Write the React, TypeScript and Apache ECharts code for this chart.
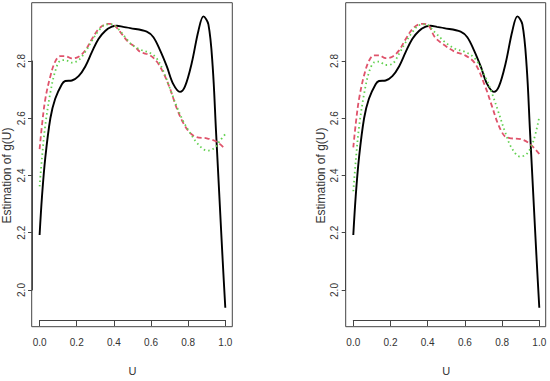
import React, { useEffect, useRef } from "react";
import * as echarts from "echarts";

// Black solid curve (same in both panels)
const blackU = [0, 0.013, 0.031, 0.058, 0.084, 0.12, 0.138, 0.174, 0.21, 0.246, 0.282, 0.317, 0.353, 0.389, 0.416, 0.45, 0.488, 0.577, 0.613, 0.649, 0.685, 0.72, 0.756, 0.783, 0.819, 0.855, 0.882, 0.909, 0.932, 0.95, 0.968, 0.986, 1.0];
const blackG = [2.192, 2.328, 2.464, 2.6, 2.668, 2.719, 2.73, 2.732, 2.747, 2.781, 2.832, 2.877, 2.905, 2.92, 2.923, 2.919, 2.915, 2.903, 2.883, 2.837, 2.781, 2.719, 2.692, 2.711, 2.792, 2.905, 2.956, 2.928, 2.781, 2.555, 2.328, 2.102, 1.938];

// Left panel
const redLeftU = [0, 0.013, 0.031, 0.058, 0.084, 0.111, 0.138, 0.174, 0.21, 0.246, 0.282, 0.317, 0.353, 0.38, 0.407, 0.443, 0.478, 0.515, 0.541, 0.595, 0.631, 0.667, 0.703, 0.739, 0.774, 0.81, 0.846, 0.9, 0.954, 1.0];
const redLeftG = [2.492, 2.577, 2.668, 2.747, 2.798, 2.817, 2.817, 2.809, 2.815, 2.837, 2.877, 2.911, 2.928, 2.93, 2.922, 2.894, 2.866, 2.849, 2.832, 2.82, 2.798, 2.758, 2.702, 2.634, 2.583, 2.549, 2.534, 2.53, 2.518, 2.492];
const greenLeftU = [0, 0.013, 0.031, 0.058, 0.084, 0.111, 0.138, 0.174, 0.21, 0.246, 0.282, 0.317, 0.353, 0.389, 0.425, 0.461, 0.497, 0.541, 0.595, 0.631, 0.667, 0.703, 0.739, 0.774, 0.81, 0.846, 0.882, 0.909, 0.945, 0.971, 1.0];
const greenLeftG = [2.362, 2.464, 2.577, 2.69, 2.764, 2.801, 2.803, 2.794, 2.803, 2.832, 2.871, 2.905, 2.926, 2.928, 2.911, 2.883, 2.857, 2.84, 2.828, 2.809, 2.764, 2.702, 2.64, 2.589, 2.549, 2.515, 2.492, 2.487, 2.498, 2.521, 2.545];

// Right panel
const redRightU = [0, 0.013, 0.031, 0.058, 0.084, 0.111, 0.138, 0.174, 0.21, 0.246, 0.282, 0.317, 0.353, 0.38, 0.407, 0.439, 0.493, 0.547, 0.6, 0.654, 0.708, 0.744, 0.78, 0.815, 0.85, 0.9, 0.95, 1.0];
const redRightG = [2.498, 2.58, 2.668, 2.75, 2.8, 2.82, 2.82, 2.81, 2.815, 2.837, 2.877, 2.911, 2.928, 2.93, 2.922, 2.883, 2.854, 2.832, 2.82, 2.792, 2.713, 2.645, 2.577, 2.537, 2.53, 2.527, 2.51, 2.475];
const greenRightU = [0, 0.013, 0.031, 0.058, 0.084, 0.111, 0.138, 0.174, 0.21, 0.246, 0.282, 0.317, 0.353, 0.389, 0.439, 0.493, 0.547, 0.6, 0.654, 0.708, 0.744, 0.78, 0.815, 0.85, 0.896, 0.932, 0.968, 1.0];
const greenRightG = [2.345, 2.45, 2.57, 2.685, 2.76, 2.795, 2.798, 2.786, 2.79, 2.825, 2.866, 2.9, 2.925, 2.928, 2.9, 2.866, 2.843, 2.832, 2.809, 2.747, 2.69, 2.622, 2.554, 2.498, 2.466, 2.475, 2.52, 2.605];

const xTicks = [0, 0.2, 0.4, 0.6, 0.8, 1.0];
const yTicks = [2.0, 2.2, 2.4, 2.6, 2.8];

const xName = "U";
const yName = "Estimation of g(U)";

const zip = (u: number[], g: number[]) => u.map((v, i) => [v, g[i]]);

export default function App() {
  const ref = useRef<HTMLDivElement>(null);
  useEffect(() => {
    if (!ref.current) return;
    const chart = echarts.init(ref.current, null, { renderer: "svg" });
    const font = "Liberation Sans, Arial, sans-serif";
    const panels = [
      { dataLeft: 39.3, boxLeft: 31.7, boxW: 200.6, red: zip(redLeftU, redLeftG), green: zip(greenLeftU, greenLeftG) },
      { dataLeft: 353.3, boxLeft: 345.7, boxW: 200, red: zip(redRightU, redRightG), green: zip(greenRightU, greenRightG) },
    ];
    const grid: any[] = [];
    const xAxis: any[] = [];
    const yAxis: any[] = [];
    const series: any[] = [];
    panels.forEach((p, i) => {
      grid.push({ left: p.dataLeft, top: 61, width: 186, height: 235.7, containLabel: false });
      xAxis.push({
        type: "value",
        gridIndex: i,
        min: 0,
        max: 1,
        interval: 0.2,
        offset: 30,
        splitLine: { show: false },
        axisLine: { show: true, onZero: false, lineStyle: { color: "#444", width: 1 } },
        axisTick: { show: true, length: 6, lineStyle: { color: "#444" } },
        axisLabel: {
          color: "#333",
          fontSize: 10,
          fontFamily: font,
          margin: 17,
          formatter: (v: number) => (xTicks.some((t) => Math.abs(t - v) < 1e-9) ? v.toFixed(1) : ""),
        },
        name: xName,
        nameLocation: "middle",
        nameGap: 45,
        nameTextStyle: { color: "#333", fontSize: 11, fontFamily: font },
      });
      yAxis.push({
        type: "value",
        gridIndex: i,
        min: 2.0,
        max: 2.8,
        interval: 0.2,
        offset: 7.6,
        splitLine: { show: false },
        axisLine: { show: true, onZero: false, lineStyle: { color: "#444", width: 1 } },
        axisTick: { show: true, length: 4, lineStyle: { color: "#444" } },
        axisLabel: {
          color: "#333",
          fontSize: 10,
          fontFamily: font,
          rotate: 90,
          margin: 6,
          formatter: (v: number) => (yTicks.some((t) => Math.abs(t - v) < 1e-9) ? v.toFixed(1) : ""),
        },
        name: yName,
        nameLocation: "middle",
        nameGap: 19,
        nameRotate: 90,
        nameTextStyle: { color: "#333", fontSize: 12, fontFamily: font },
      });
      series.push({
        type: "line",
        xAxisIndex: i,
        yAxisIndex: i,
        data: zip(blackU, blackG),
        smooth: 0.35,
        showSymbol: false,
        clip: false,
        lineStyle: { color: "#000", width: 1.9 },
        z: 3,
      });
      series.push({
        type: "line",
        xAxisIndex: i,
        yAxisIndex: i,
        data: p.red,
        smooth: 0.35,
        showSymbol: false,
        clip: false,
        lineStyle: { color: "#DF536B", width: 1.8, type: [5, 3] },
        z: 4,
      });
      series.push({
        type: "line",
        xAxisIndex: i,
        yAxisIndex: i,
        data: p.green,
        smooth: 0.35,
        showSymbol: false,
        clip: false,
        lineStyle: { color: "#61D04F", width: 1.8, type: [1.5, 3] },
        z: 5,
      });
    });
    // Box (frame) grids, one per panel, with hidden axes
    panels.forEach((p) => {
      const gi = grid.length;
      grid.push({
        left: p.boxLeft,
        top: 2.7,
        width: p.boxW,
        height: 324,
        show: true,
        backgroundColor: "transparent",
        borderColor: "#444",
        borderWidth: 1,
        z: 10,
      });
      xAxis.push({ type: "value", gridIndex: gi, min: 0, max: 1, show: false });
      yAxis.push({ type: "value", gridIndex: gi, min: 0, max: 1, show: false });
    });
    chart.setOption({
      animation: false,
      backgroundColor: "#fff",
      grid,
      xAxis,
      yAxis,
      series,
    });
    return () => chart.dispose();
  }, []);
  return (
    <div
      ref={ref}
      style={{ position: "fixed", left: 0, top: 0, width: 550, height: 381, background: "#fff" }}
    />
  );
}
